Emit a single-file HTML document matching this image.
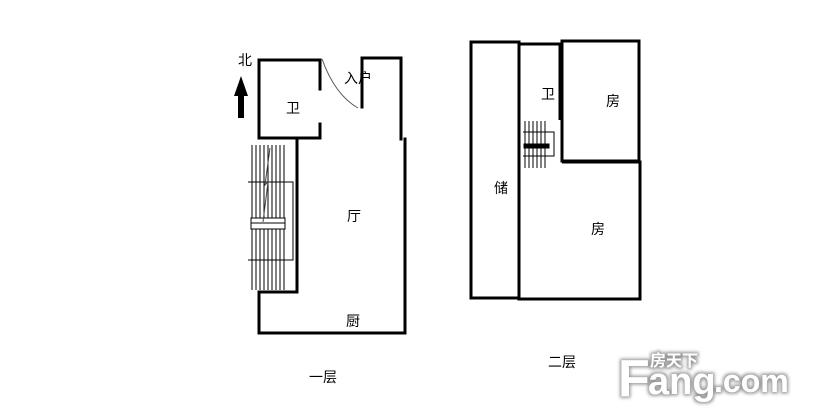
<!DOCTYPE html>
<html><head><meta charset="utf-8"><style>
html,body{margin:0;padding:0;background:#fff;}
svg{display:block;}
text{font-family:"Liberation Sans","Noto Sans CJK SC",sans-serif;font-size:14px;fill:#000;}
</style></head><body>
<svg width="814" height="419" viewBox="0 0 814 419" xmlns="http://www.w3.org/2000/svg">
<defs>
<filter id="sh" x="-20%" y="-40%" width="140%" height="180%">
<feMorphology in="SourceAlpha" operator="dilate" radius="1.5" result="d"/>
<feGaussianBlur in="d" stdDeviation="1.5" result="b"/>
<feFlood flood-color="#999"/>
<feComposite in2="b" operator="in" result="s"/>
<feMerge><feMergeNode in="s"/><feMergeNode in="SourceGraphic"/></feMerge>
</filter>
</defs>
<rect width="814" height="419" fill="#fff"/>
<g fill="none" stroke="#000" stroke-width="3" stroke-linecap="square">
<polyline points="320,60 259,60 259,138 320,138"/>
<line x1="320" y1="60" x2="320" y2="89"/>
<line x1="320" y1="124" x2="320" y2="138"/>
<polyline points="362,107 362,58 401,58 401,139"/>
<line x1="405" y1="139" x2="405" y2="292"/>
<line x1="297" y1="139" x2="297" y2="290"/>
<polyline points="297,292 259,292 259,333 405,333 405,292"/>
</g>
<path d="M322,59 Q335,95 358,108" fill="none" stroke="#555" stroke-width="1"/>
<g stroke="#000" stroke-width="1" fill="none">
<line x1="252" y1="145" x2="252" y2="290"/><line x1="256" y1="145" x2="256" y2="290"/>
<line x1="260" y1="145" x2="260" y2="290"/><line x1="264" y1="145" x2="264" y2="290"/>
<line x1="268" y1="145" x2="268" y2="290"/><line x1="272" y1="145" x2="272" y2="290"/>
<line x1="276" y1="145" x2="276" y2="290"/><line x1="280" y1="145" x2="280" y2="290"/>
<line x1="284" y1="145" x2="284" y2="290"/>
<polyline points="248,182 293,182 293,260 248,260"/>
<rect x="251" y="218" width="34" height="11" fill="#fff"/>
<line x1="251" y1="223" x2="285" y2="223"/>
<polyline points="270,148 265,185 268,182 263,222" stroke="#444"/>
</g>
<polygon points="241,76 234,96 238,96 238,118 244,118 244,96 248,96" fill="#000"/>
<g fill="none" stroke="#000" stroke-width="3">
<rect x="471" y="42" width="48" height="256"/>
<polyline points="519,120 519,44 560,44 560,120"/>
<rect x="562" y="41" width="77" height="120"/>
<polyline points="519,168 519,299 640,299 640,162 562,162"/>
</g>
<g stroke="#000" stroke-width="1" fill="none">
<line x1="525" y1="121" x2="525" y2="168"/><line x1="529" y1="121" x2="529" y2="168"/>
<line x1="533" y1="121" x2="533" y2="168"/><line x1="537" y1="121" x2="537" y2="168"/>
<line x1="541" y1="121" x2="541" y2="168"/><line x1="545" y1="121" x2="545" y2="168"/>
<polyline points="523,132 554,132 554,156 523,156"/>
<rect x="524" y="144" width="25" height="4" fill="#000"/>
</g>
<text x="238" y="65">北</text>
<text x="286" y="113">卫</text>
<text x="344" y="83">入户</text>
<text x="347" y="221">厅</text>
<text x="346" y="326">厨</text>
<text x="309" y="382">一层</text>
<text x="541" y="99">卫</text>
<text x="606" y="106">房</text>
<text x="494" y="193">储</text>
<text x="591" y="234">房</text>
<text x="548" y="367">二层</text>
<g filter="url(#sh)" font-weight="bold">
<text x="618" y="396" style="font-size:52px;fill:#fff">F</text>
<text x="648" y="394" style="font-size:38px;fill:#fff">ang</text>
<text x="714" y="392" style="font-size:32px;fill:#fff">.com</text>
<text x="650" y="366" style="font-size:16px;fill:#fff">房天下</text>
</g>
</svg>
</body></html>
